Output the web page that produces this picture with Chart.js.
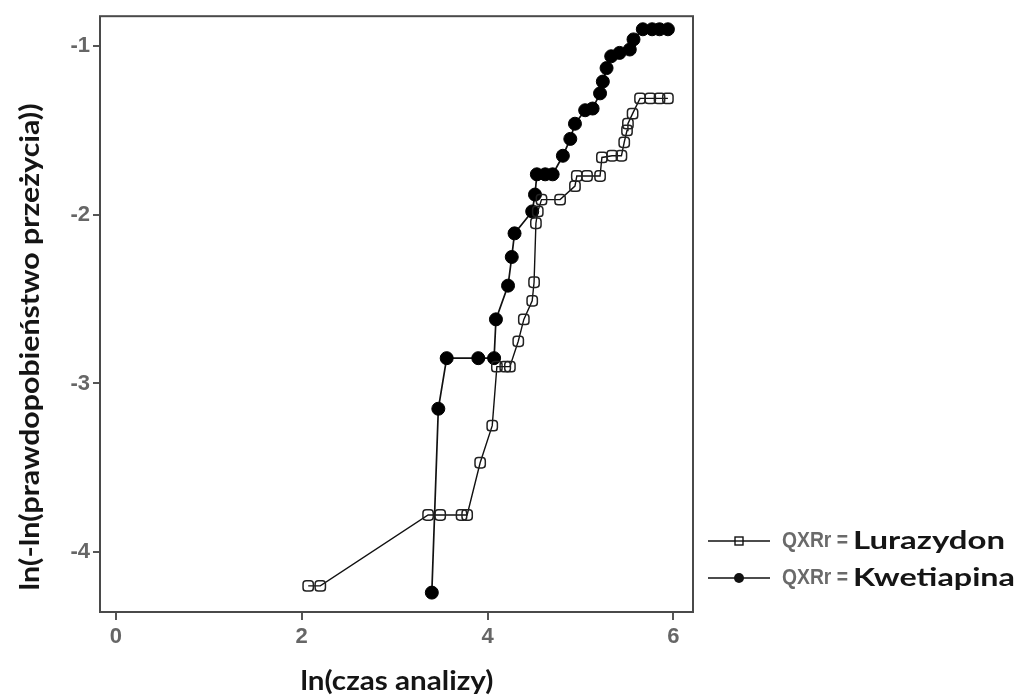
<!DOCTYPE html>
<html>
<head>
<meta charset="utf-8">
<script src="https://cdn.jsdelivr.net/npm/chart.js@4/dist/chart.umd.min.js"></script>
<style>
  html, body { margin: 0; padding: 0; background: #ffffff; }
  canvas { display: block; }
</style>
</head>
<body>
<canvas id="c" width="1018" height="695"></canvas>
<script>
// ---- data ----
const lurazydonX = [2.07,2.20,3.36,3.49,3.72,3.78,3.92,4.05,4.10,4.19,4.24,4.33,4.39,4.48,4.50,4.52,4.54,4.58,4.78,4.94,4.96,5.07,5.21,5.23,5.34,5.44,5.47,5.50,5.51,5.56,5.64,5.75,5.85,5.94];
const lurazydonY = [-4.20,-4.20,-3.78,-3.78,-3.78,-3.78,-3.47,-3.25,-2.90,-2.90,-2.90,-2.75,-2.62,-2.51,-2.40,-2.05,-1.98,-1.91,-1.91,-1.83,-1.77,-1.77,-1.77,-1.66,-1.65,-1.65,-1.57,-1.50,-1.46,-1.40,-1.31,-1.31,-1.31,-1.31];
const kwetiapinaX = [3.40,3.47,3.56,3.90,4.07,4.09,4.22,4.26,4.29,4.48,4.51,4.53,4.62,4.70,4.81,4.89,4.94,5.05,5.13,5.21,5.24,5.28,5.33,5.42,5.53,5.57,5.67,5.77,5.85,5.94];
const kwetiapinaY = [-4.24,-3.15,-2.85,-2.85,-2.85,-2.62,-2.42,-2.25,-2.11,-1.98,-1.88,-1.76,-1.76,-1.76,-1.65,-1.55,-1.46,-1.38,-1.37,-1.28,-1.21,-1.13,-1.06,-1.04,-1.02,-0.96,-0.90,-0.90,-0.90,-0.90];
const xTicks = [0, 2, 4, 6];
const yTicks = [-4, -3, -2, -1];
const seriesLabels = ['Lurazydon', 'Kwetiapina'];
const legendPrefix = 'QXRr =';
const xTitle = 'ln(czas analizy)';
const yTitle = 'ln(-ln(prawdopobieństwo przeżycia))';

const toPoints = (xs, ys) => xs.map((x, i) => ({ x: x, y: ys[i] }));

function fitText(ctx, txt, x, y, w, font, color, rot) {
  ctx.save();
  ctx.font = font;
  const m = ctx.measureText(txt).width;
  ctx.translate(x, y);
  if (rot) ctx.rotate(rot);
  ctx.scale(w / m, 1);
  ctx.fillStyle = color;
  ctx.textBaseline = 'middle';
  ctx.textAlign = 'center';
  ctx.fillText(txt, 0, 0);
  ctx.restore();
}

const decor = {
  id: 'decor',
  beforeDatasetsDraw(chart) {
    const { ctx, chartArea: a } = chart;
    ctx.save();
    ctx.strokeStyle = '#4a4a4a';
    ctx.lineWidth = 2;
    ctx.strokeRect(a.left, a.top, a.right - a.left, a.bottom - a.top);
    ctx.restore();
  },
  afterDraw(chart) {
    const { ctx } = chart;
    // axis titles
    fitText(ctx, xTitle, 397, 682, 193, 'bold 26px Lato', '#151515', 0);
    fitText(ctx, yTitle, 31, 347, 487, 'bold 26px Lato', '#151515', -Math.PI / 2);
    // legend
    const rows = [541, 578];
    rows.forEach((y, i) => {
      ctx.save();
      ctx.strokeStyle = '#111';
      ctx.lineWidth = 1.6;
      ctx.beginPath();
      ctx.moveTo(708, y); ctx.lineTo(770, y);
      ctx.stroke();
      if (i === 0) {
        ctx.fillStyle = '#fff';
        ctx.fillRect(735, y - 4, 8, 8);
        ctx.lineWidth = 1.4;
        ctx.strokeRect(735, y - 4, 8, 8);
        ctx.beginPath(); ctx.moveTo(735, y); ctx.lineTo(743, y); ctx.stroke();
      } else {
        ctx.fillStyle = '#111';
        ctx.beginPath();
        ctx.arc(739, y, 5, 0, Math.PI * 2);
        ctx.fill();
      }
      ctx.restore();
      fitText(ctx, legendPrefix, 815, y, 66, 'bold 22px "Liberation Sans"', '#6a6a6a', 0);
      const w = i === 0 ? 152 : 162;
      fitText(ctx, seriesLabels[i], 853 + w / 2, y, w, 'bold 25px Lato', '#151515', 0);
    });
  }
};

const tickFont = { family: '"Liberation Sans", Arial, sans-serif', size: 22, weight: 'bold' };

new Chart(document.getElementById('c'), {
  type: 'scatter',
  data: {
    datasets: [
      {
        label: seriesLabels[0],
        data: toPoints(lurazydonX, lurazydonY),
        showLine: true,
        borderColor: '#111',
        borderWidth: 1.4,
        pointStyle: 'rectRounded',
        pointRadius: 6,
        pointBorderWidth: 1.5,
        pointBorderColor: '#222',
        pointBackgroundColor: 'rgba(255,255,255,0)',
        tension: 0
      },
      {
        label: seriesLabels[1],
        data: toPoints(kwetiapinaX, kwetiapinaY),
        showLine: true,
        borderColor: '#111',
        borderWidth: 1.7,
        pointStyle: 'circle',
        pointRadius: 6.5,
        pointBorderWidth: 1,
        pointBorderColor: '#000',
        pointBackgroundColor: '#000',
        tension: 0
      }
    ]
  },
  options: {
    responsive: false,
    animation: false,
    devicePixelRatio: 1,
    layout: { padding: { top: 15, right: 325, left: 0, bottom: 0 } },
    plugins: { legend: { display: false }, tooltip: { enabled: false } },
    scales: {
      x: {
        type: 'linear',
        min: -0.17,
        max: 6.21,
        afterBuildTicks: s => { s.ticks = xTicks.map(v => ({ value: v })); },
        afterFit: s => { s.height = 83; },
        border: { display: false },
        grid: { drawOnChartArea: false, drawTicks: true, tickLength: 8, color: '#555', lineWidth: 2 },
        ticks: { color: '#666', font: tickFont, padding: 4 }
      },
      y: {
        type: 'linear',
        min: -4.355,
        max: -0.8225,
        afterBuildTicks: s => { s.ticks = yTicks.map(v => ({ value: v })); },
        afterFit: s => { s.width = 100; },
        border: { display: false },
        grid: { drawOnChartArea: false, drawTicks: true, tickLength: 7, color: '#555', lineWidth: 2 },
        ticks: { color: '#666', font: tickFont, padding: 3 }
      }
    }
  },
  plugins: [decor]
});
</script>
</body>
</html>
